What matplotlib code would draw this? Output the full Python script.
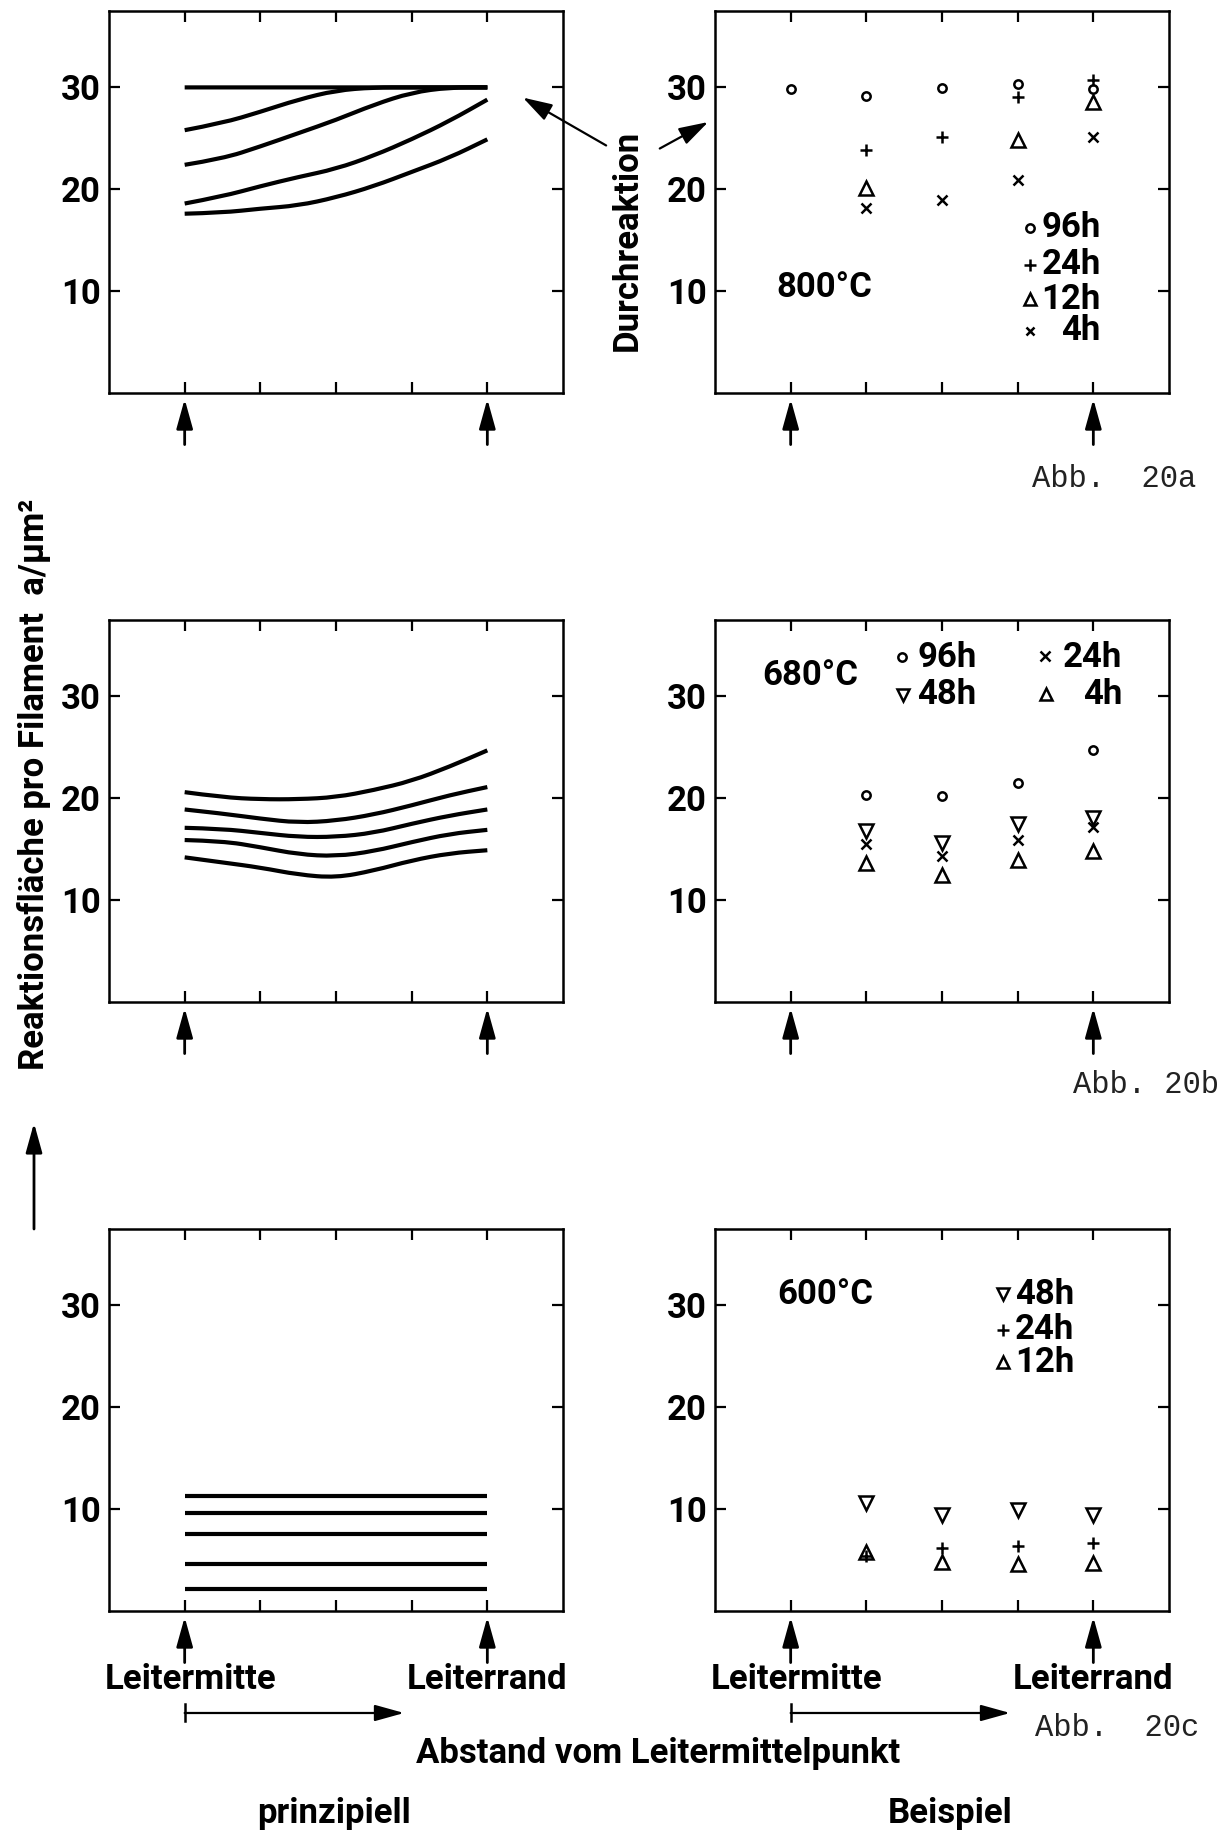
import matplotlib
matplotlib.use("Agg")
import matplotlib.pyplot as plt
from matplotlib.path import Path
from matplotlib.patches import PathPatch, FancyArrowPatch

plt.rcParams['font.family'] = ['Roboto', 'DejaVu Sans']
plt.rcParams['font.weight'] = 'bold'

# ---- positions along the conductor radius (tick positions) ----
x_ticks = [1, 2, 3, 4, 5]
y_ticks = [10, 20, 30]

# ---- schematic curves ("prinzipiell") ----
curve_x = [1, 1.5, 2, 2.5, 3, 3.5, 4, 4.5, 5]
a_curves = [
    [30.0, 30.0, 30.0, 30.0, 30.0, 30.0, 30.0, 30.0, 30.0],
    [25.8, 26.5, 27.6, 28.8, 29.7, 30.0, 30.0, 30.0, 30.0],
    [22.4, 23.0, 24.2, 25.5, 26.8, 28.3, 29.5, 30.0, 30.0],
    [18.6, 19.3, 20.3, 21.2, 22.0, 23.3, 24.9, 26.7, 28.8],
    [17.6, 17.7, 18.1, 18.4, 19.2, 20.3, 21.7, 23.1, 24.9],
]
b_curves = [
    [20.6, 20.1, 19.9, 19.9, 20.1, 20.8, 21.7, 23.1, 24.7],
    [18.9, 18.5, 18.0, 17.6, 17.8, 18.4, 19.3, 20.3, 21.1],
    [17.1, 17.0, 16.6, 16.2, 16.2, 16.6, 17.5, 18.3, 18.9],
    [15.9, 15.8, 15.2, 14.5, 14.3, 14.8, 15.7, 16.5, 16.9],
    [14.2, 13.7, 13.2, 12.5, 12.2, 12.9, 13.9, 14.6, 14.9],
]
c_levels = [11.3, 9.6, 7.6, 4.6, 2.2]

# ---- measured examples ("Beispiel") ----
# 800 °C
t800_96h_x = [1, 2, 3, 4, 5]
t800_96h = [29.8, 29.2, 29.9, 30.3, 29.8]
t800_24h_x = [2, 3, 4, 5]
t800_24h = [23.9, 25.1, 29.1, 30.7]
t800_12h_x = [2, 4, 5]
t800_12h = [20.1, 24.8, 28.6]
t800_4h_x = [2, 3, 4, 5]
t800_4h = [18.2, 18.9, 20.9, 25.1]
# 680 °C
t680_x = [2, 3, 4, 5]
t680_96h = [20.3, 20.2, 21.5, 24.7]
t680_48h = [16.8, 15.6, 17.5, 18.1]
t680_24h = [15.5, 14.3, 15.9, 17.2]
t680_4h = [13.6, 12.5, 13.9, 14.8]
# 600 °C
t600_x = [2, 3, 4, 5]
t600_48h = [10.6, 9.4, 9.9, 9.4]
t600_24h = [5.4, 6.2, 6.4, 6.7]
t600_12h = [5.8, 4.8, 4.6, 4.7]

W, H = 1232, 1834
fig = plt.figure(figsize=(W / 100, H / 100), dpi=100)

ARROW = '-|>,head_length=1.8,head_width=0.5'
MONO = ['Liberation Mono', 'DejaVu Sans Mono']


def add_axes(left_px, top_px, w_px=454, h_px=382):
    return fig.add_axes([left_px / W, 1 - (top_px + h_px) / H, w_px / W, h_px / H])


def smooth_curve(ax, xs, ys):
    """Draw a smooth line through the sample points using quadratic Bezier pieces."""
    verts = [(xs[0], ys[0])]
    codes = [Path.MOVETO]
    for i in range(1, len(xs) - 1):
        verts.append((xs[i], ys[i]))
        verts.append(((xs[i] + xs[i + 1]) / 2, (ys[i] + ys[i + 1]) / 2))
        codes += [Path.CURVE3, Path.CURVE3]
    verts.append((xs[-1], ys[-1]))
    codes.append(Path.LINETO)
    ax.add_patch(PathPatch(Path(verts, codes), facecolor='none', edgecolor='k',
                           lw=3, capstyle='butt', joinstyle='round'))


def style(ax):
    ax.set_xlim(0, 6)
    ax.set_ylim(0, 37.5)
    ax.set_xticks(x_ticks)
    ax.set_xticklabels([])
    ax.set_yticks(y_ticks)
    ax.tick_params(direction='in', length=8, width=1.6, top=True, right=True,
                   labelsize=25, pad=6)
    for sp in ax.spines.values():
        sp.set_linewidth(1.8)
    trans = ax.get_xaxis_transform()
    for xv in (1, 5):
        ax.annotate('', xy=(xv, -0.016), xytext=(xv, -0.135), xycoords=trans,
                    textcoords=trans, annotation_clip=False,
                    arrowprops=dict(arrowstyle=ARROW, lw=2, color='k',
                                    shrinkA=0, shrinkB=0))


def bottom_labels(ax):
    trans = ax.get_xaxis_transform()
    ax.text(1.08, -0.18, 'Leitermitte', transform=trans, ha='center', va='center',
            fontsize=25, clip_on=False)
    ax.text(5.0, -0.18, 'Leiterrand', transform=trans, ha='center', va='center',
            fontsize=25, clip_on=False)
    ax.annotate('', xy=(3.9, -0.267), xytext=(1, -0.267), xycoords=trans,
                textcoords=trans, annotation_clip=False,
                arrowprops=dict(arrowstyle=ARROW, lw=1.6, color='k',
                                shrinkA=0, shrinkB=0))
    ax.plot([1, 1], [-0.243, -0.288], color='k', lw=1.8, transform=trans,
            clip_on=False)


mk = dict(color='k', linestyle='none', mfc='none', mew=1.8, clip_on=False)

# ---------------- row a: 800 °C ----------------
ax_a1 = add_axes(109, 11)
style(ax_a1)
for ys in a_curves:
    smooth_curve(ax_a1, curve_x, ys)
ax_a1.annotate('', xy=(5.47, 29.0), xytext=(6.57, 24.3), annotation_clip=False,
               arrowprops=dict(arrowstyle='-|>,head_length=1.8,head_width=0.55',
                               lw=1.6, color='k', shrinkA=0, shrinkB=0))

ax_a2 = add_axes(715, 11)
style(ax_a2)
ax_a2.plot(t800_96h_x, t800_96h, marker='o', ms=6, **mk)
ax_a2.plot(t800_24h_x, t800_24h, marker='+', ms=9, **mk)
ax_a2.plot(t800_12h_x, t800_12h, marker='^', ms=10, **mk)
ax_a2.plot(t800_4h_x, t800_4h, marker='x', ms=6.5, **mk)
ax_a2.text(0.81, 10.4, '800°C', fontsize=25, ha='left', va='center')
leg_y = [16.2, 12.6, 9.2, 6.1]
for (m, s, lab), yy in zip([('o', 6, '96h'), ('+', 8, '24h'), ('^', 9, '12h'),
                            ('x', 6, '4h')], leg_y):
    ax_a2.plot([4.16], [yy], marker=m, ms=s, **mk)
    ax_a2.text(5.1, yy, lab, fontsize=25, ha='right', va='center')
ax_a2.text(-1.16, 15.0, 'Durchreaktion', rotation=90, fontsize=25,
           ha='center', va='center', clip_on=False)
ax_a2.annotate('', xy=(-0.09, 26.6), xytext=(-0.73, 24.0), annotation_clip=False,
               arrowprops=dict(arrowstyle='-|>,head_length=1.8,head_width=0.55',
                               lw=1.6, color='k', shrinkA=0, shrinkB=0))
fig.text(1032 / W, 1 - 479 / H, 'Abb.  20a', family=MONO, weight='normal',
         fontsize=22, ha='left', va='center', color='#222222')

# ---------------- row b: 680 °C ----------------
ax_b1 = add_axes(109, 620)
style(ax_b1)
for ys in b_curves:
    smooth_curve(ax_b1, curve_x, ys)

ax_b2 = add_axes(715, 620)
style(ax_b2)
ax_b2.plot(t680_x, t680_96h, marker='o', ms=6, **mk)
ax_b2.plot(t680_x, t680_48h, marker='v', ms=10, **mk)
ax_b2.plot(t680_x, t680_24h, marker='x', ms=7, **mk)
ax_b2.plot(t680_x, t680_4h, marker='^', ms=10, **mk)
ax_b2.text(0.63, 32.1, '680°C', fontsize=25, ha='left', va='center')
ax_b2.plot([2.47], [33.9], marker='o', ms=6, **mk)
ax_b2.plot([2.48], [30.1], marker='v', ms=9, **mk)
ax_b2.text(2.67, 33.8, '96h', fontsize=25, ha='left', va='center')
ax_b2.text(2.67, 30.2, '48h', fontsize=25, ha='left', va='center')
ax_b2.plot([4.36], [34.0], marker='x', ms=7, **mk)
ax_b2.plot([4.37], [30.2], marker='^', ms=9, **mk)
ax_b2.text(5.38, 33.8, '24h', fontsize=25, ha='right', va='center')
ax_b2.text(5.38, 30.2, '4h', fontsize=25, ha='right', va='center')
fig.text(1073 / W, 1 - 1085 / H, 'Abb. 20b', family=MONO, weight='normal',
         fontsize=22, ha='left', va='center', color='#222222')

# ---------------- row c: 600 °C ----------------
ax_c1 = add_axes(109, 1229)
style(ax_c1)
for lv in c_levels:
    ax_c1.plot([1, 5], [lv, lv], color='k', lw=3, solid_capstyle='butt')
bottom_labels(ax_c1)

ax_c2 = add_axes(715, 1229)
style(ax_c2)
ax_c2.plot(t600_x, t600_48h, marker='v', ms=10, **mk)
ax_c2.plot(t600_x, t600_24h, marker='+', ms=9, **mk)
ax_c2.plot(t600_x, t600_12h, marker='^', ms=10, **mk)
ax_c2.text(0.82, 31.1, '600°C', fontsize=25, ha='left', va='center')
for (m, s, lab), yy in zip([('v', 9, '48h'), ('+', 8, '24h'), ('^', 9, '12h')],
                           [31.1, 27.6, 24.4]):
    ax_c2.plot([3.8], [yy], marker=m, ms=s, **mk)
    ax_c2.text(4.75, yy, lab, fontsize=25, ha='right', va='center')
bottom_labels(ax_c2)
fig.text(1035 / W, 1 - 1728 / H, 'Abb.  20c', family=MONO, weight='normal',
         fontsize=22, ha='left', va='center', color='#222222')

# ---------------- shared labels ----------------
fig.text(34 / W, 1 - 784 / H, 'Reaktionsfläche pro Filament  a/µm²', rotation=90,
         fontsize=25, ha='center', va='center')
fig.patches.append(FancyArrowPatch(
    (34 / W, 1 - 1229 / H), (34 / W, 1 - 1123 / H), transform=fig.transFigure,
    arrowstyle=ARROW, mutation_scale=10, lw=2, color='k', shrinkA=0, shrinkB=0))
fig.text(658 / W, 1 - 1753 / H, 'Abstand vom Leitermittelpunkt', fontsize=25,
         ha='center', va='center')
fig.text(334 / W, 1 - 1813 / H, 'prinzipiell', fontsize=25, ha='center', va='center')
fig.text(950 / W, 1 - 1813 / H, 'Beispiel', fontsize=25, ha='center', va='center')

fig.savefig('out.png', dpi=100)
